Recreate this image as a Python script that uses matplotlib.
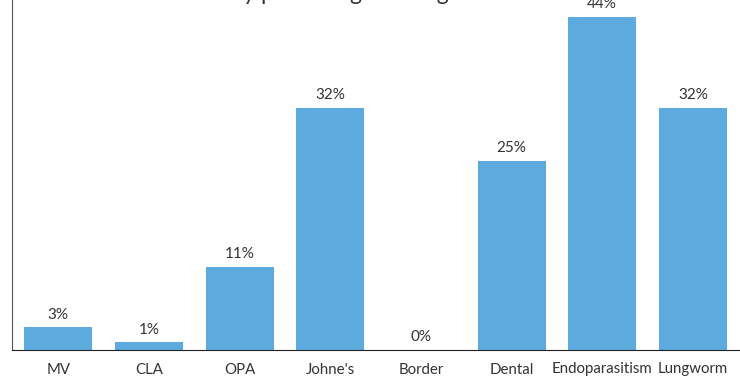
import numpy as np
import matplotlib.pyplot as plt

# Disease categories and percentage of flocks testing positive
categories = ["MV", "CLA", "OPA", "Johne's", "Border", "Dental", "Endoparasitism", "Lungworm"]
percent = [3, 1, 11, 32, 0, 25, 44, 32]

plt.rcParams["font.family"] = ["Lato", "DejaVu Sans"]

fig = plt.figure(figsize=(7.4, 3.76), dpi=100)
ax = fig.add_axes([12 / 740, 26 / 376, 728 / 740, 350 / 376])

x = np.arange(len(categories))
bars = ax.bar(x, percent, width=0.75, color="#5DAADF")

for xi, v in zip(x, percent):
    ax.annotate("%d%%" % v, (xi, v), xytext=(0, 4), textcoords="offset points",
                ha="center", va="bottom", fontsize=11, color="#333333")

ax.set_xlim(-0.51, 7.52)
ax.set_ylim(0, 46.2)
ax.set_xticks(x)
ax.set_xticklabels(categories, fontsize=10.8, color="#333333")
ax.tick_params(axis="x", length=0, pad=9)
ax.set_yticks([])
for s in ["top", "right"]:
    ax.spines[s].set_visible(False)
ax.spines["left"].set_color("#555555")
ax.spines["bottom"].set_color("#222222")

# title sits above the visible area, only its descenders show
fig.text(449 / 740, 1 + 0.5 / 376, "Disease found by percentage testing",
         ha="right", va="baseline", fontsize=16.5, color="#333333")

fig.savefig("out.png", dpi=100)
